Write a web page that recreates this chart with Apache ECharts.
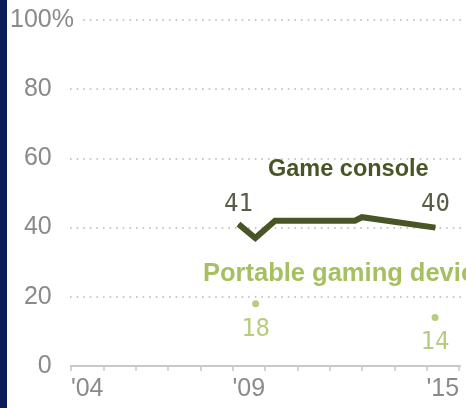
<!DOCTYPE html>
<html>
<head>
<meta charset="utf-8">
<script src="https://cdn.jsdelivr.net/npm/echarts@6/dist/echarts.min.js"></script>
<style>html,body{margin:0;padding:0;background:#fff}#c{width:466px;height:408px}</style>
</head>
<body>
<div id="c"></div>
<script>
// ---- data ----
const years = ["'04","'05","'06","'07","'08","'09","'10","'11","'12","'13","'14","'15"];
const shownYears = ["'04","'09","'15"];
const yTicks = [0, 20, 40, 60, 80, 100];
const consoleTime = [2009.18, 2009.70, 2010.31, 2012.78, 2013.00, 2015.27];
const consoleVal  = [41, 37, 42, 42, 43, 40];
const portableTime = [2009.71, 2015.26];
const portableVal  = [18, 14];
const consoleName = 'Game console';
const portableName = 'Portable gaming devices';

const dark = '#4a5526';
const darkLabel = '#585d48';
const light = '#a6bf5f';
const grey = '#8a8a8a';

const chart = echarts.init(document.getElementById('c'), null, {renderer: 'canvas'});
const lastC = consoleTime.length - 1;

const option = {
  backgroundColor: '#fff',
  animation: false,
  grid: [
    {left: 70, right: 0, top: 20, bottom: 42},
    {left: 71, right: 7, top: 20, bottom: 42}
  ],
  xAxis: [
    {gridIndex: 1, type: 'value', min: 2004, max: 2016, show: false},
    {gridIndex: 1, type: 'category', data: years, boundaryGap: true, position: 'bottom',
      axisLine: {show: true, lineStyle: {color: '#c8c8c8', width: 2}},
      axisTick: {show: true, interval: 0, length: 5, lineStyle: {color: '#c8c8c8', width: 1.5}},
      axisLabel: {interval: (i, v) => shownYears.indexOf(v) >= 0, color: grey,
        fontSize: 25, fontFamily: 'Liberation Sans', margin: 11},
      splitLine: {show: false}},
    {gridIndex: 0, type: 'value', min: 0, max: 1, show: false}
  ],
  yAxis: [
    {gridIndex: 0, type: 'value', min: yTicks[0], max: yTicks[yTicks.length-1], interval: 20,
      axisLine: {show: false}, axisTick: {show: false}, axisLabel: {show: false},
      splitLine: {show: true, lineStyle: {color: '#b8b8b8', width: 1.6, type: [1.6, 5]}}},
    {gridIndex: 1, type: 'value', min: yTicks[0], max: yTicks[yTicks.length-1], interval: 20,
      axisLine: {show: false}, axisTick: {show: false}, splitLine: {show: false},
      axisLabel: {
        margin: -12,
        formatter: v => v === 100 ? '{w|100%}' : '{n|' + v + '}{h|%}',
        rich: {
          w: {color: grey, fontSize: 25, fontFamily: 'Liberation Sans', backgroundColor: '#fff', padding: [0, 9, 0, 0]},
          n: {color: grey, fontSize: 25, fontFamily: 'Liberation Sans'},
          h: {color: 'rgba(0,0,0,0)', fontSize: 25, fontFamily: 'Liberation Sans', padding: [0, 9, 0, 0]}
        }
      }}
  ],
  series: [
    {
      name: consoleName, type: 'line', xAxisIndex: 0, yAxisIndex: 1,
      data: consoleTime.map((t, i) => ({
        value: [t, consoleVal[i]],
        label: {show: i === 0 || i === lastC, distance: i === 0 ? 7 : 10}
      })),
      symbol: 'circle', symbolSize: 1, showSymbol: true,
      itemStyle: {color: dark},
      lineStyle: {color: dark, width: 6, join: 'miter'},
      label: {position: 'top', color: darkLabel, fontSize: 24, fontFamily: 'DejaVu Sans Mono'},
      z: 3
    },
    {
      name: portableName, type: 'scatter', xAxisIndex: 0, yAxisIndex: 1,
      data: portableTime.map((t, i) => ({
        value: [t, portableVal[i]],
        label: {distance: i === 0 ? 11 : 10}
      })),
      symbolSize: 7,
      itemStyle: {color: light},
      label: {show: true, position: 'bottom', color: light, fontSize: 24, fontFamily: 'DejaVu Sans Mono'},
      z: 3
    }
  ],
  graphic: [
    {type: 'rect', left: 0, top: 0, shape: {x: 0, y: 0, width: 7, height: 408}, style: {fill: '#0b1e5a'}, z: 10},
    {type: 'text', x: 268, y: 170, style: {text: consoleName, fill: dark, font: 'bold 23.5px "Liberation Sans"', textVerticalAlign: 'middle'}, z: 10},
    {type: 'text', x: 203, y: 274, style: {text: portableName, fill: light, font: 'bold 25.5px "Liberation Sans"', textVerticalAlign: 'middle'}, z: 10}
  ]
};
chart.setOption(option);
</script>
</body>
</html>
